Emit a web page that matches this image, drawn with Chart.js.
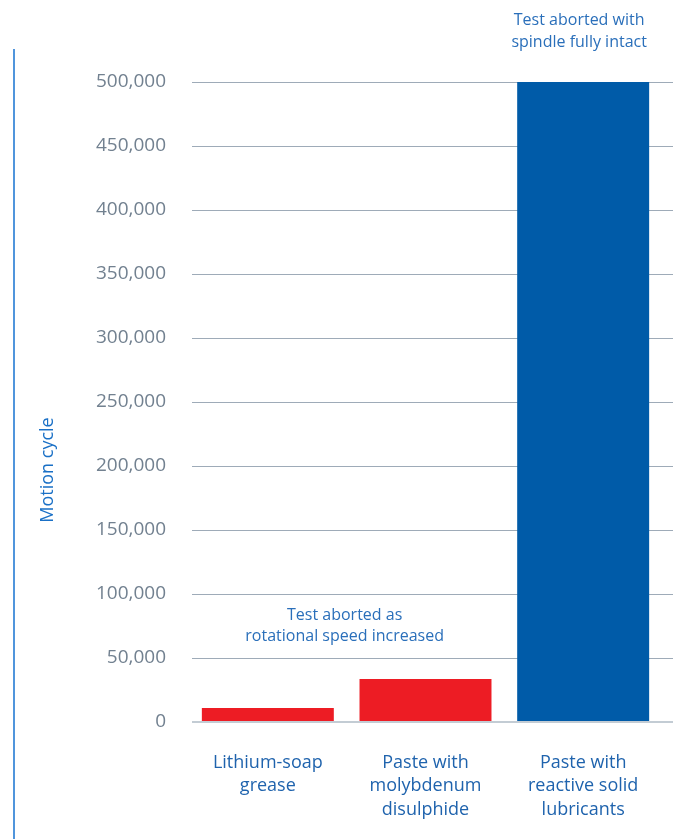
<!DOCTYPE html>
<html>
<head>
<meta charset="utf-8">
<script src="https://cdn.jsdelivr.net/npm/chart.js@4"></script>
<style>
  html, body { margin: 0; padding: 0; background: #fff; }
  #wrap { width: 679px; height: 839px; position: relative; }
</style>
</head>
<body>
<div id="wrap"><canvas id="cycleChart"></canvas></div>
<script>
// Data
const categories = [
  ['Lithium-soap', 'grease'],
  ['Paste with', 'molybdenum', 'disulphide'],
  ['Paste with', 'reactive solid', 'lubricants']
];
const cycles = [11000, 33500, 500000];
const barColors = ['#ed1c24', '#ed1c24', '#005ba8'];
const yTicks = [0, 50000, 100000, 150000, 200000, 250000, 300000, 350000, 400000, 450000, 500000];
const axisTitle = 'Motion cycle';
const noteTop = ['Test aborted with', 'spindle fully intact'];
const noteLow = ['Test aborted as', 'rotational speed increased'];

const FONT = '"Open Sans", "Noto Sans", sans-serif';

// grid lines, side rule, axis title and notes
const decor = {
  id: 'decor',
  beforeDatasetsDraw(chart) {
    const { ctx, scales: { y } } = chart;
    const x0 = 192, x1 = 673;
    ctx.save();
    y.ticks.forEach(t => {
      if (t.value === 0) return;
      const py = Math.round(y.getPixelForValue(t.value)) + 0.5;
      ctx.strokeStyle = '#9eabb8';
      ctx.lineWidth = 1;
      ctx.beginPath();
      ctx.moveTo(x0, py);
      ctx.lineTo(x1, py);
      ctx.stroke();
    });
    ctx.restore();
  },
  afterDatasetsDraw(chart) {
    const { ctx, scales: { x, y } } = chart;
    ctx.save();
    // zero line
    const zy = y.getPixelForValue(0);
    ctx.strokeStyle = '#c3ccd4';
    ctx.lineWidth = 2;
    ctx.beginPath();
    ctx.moveTo(192, zy);
    ctx.lineTo(673, zy);
    ctx.stroke();

    // left rule
    ctx.strokeStyle = '#1672d0';
    ctx.lineWidth = 1.5;
    ctx.beginPath();
    ctx.moveTo(14, 49);
    ctx.lineTo(14, chart.height);
    ctx.stroke();

    // axis title
    ctx.fillStyle = '#1a70c6';
    ctx.font = '18px ' + FONT;
    ctx.textAlign = 'center';
    ctx.textBaseline = 'middle';
    ctx.translate(48, 470);
    ctx.rotate(-Math.PI / 2);
    ctx.fillText(axisTitle, 0, 0);
    ctx.restore();

    // notes
    ctx.save();
    ctx.fillStyle = '#2a6fba';
    ctx.font = '16px ' + FONT;
    ctx.textAlign = 'center';
    ctx.textBaseline = 'middle';
    const topX = x.getPixelForValue(2) - 4;
    const topY = y.getPixelForValue(500000);
    noteTop.forEach((line, i) => ctx.fillText(line, topX, topY - 62 + i * 22));
    const lowX = (x.getPixelForValue(0) + x.getPixelForValue(1)) / 2 - 2;
    const lowY = y.getPixelForValue(83000);
    noteLow.forEach((line, i) => ctx.fillText(line, lowX, lowY + i * 21));
    ctx.restore();
  }
};

new Chart(document.getElementById('cycleChart'), {
  type: 'bar',
  data: {
    labels: categories,
    datasets: [{
      data: cycles,
      backgroundColor: barColors,
      borderWidth: 0,
      categoryPercentage: 1,
      barPercentage: 0.837
    }]
  },
  options: {
    responsive: true,
    maintainAspectRatio: false,
    animation: false,
    layout: { padding: { top: 82, right: 17, bottom: 0, left: 1 } },
    plugins: {
      legend: { display: false },
      tooltip: { enabled: false }
    },
    scales: {
      x: {
        grid: { display: false, drawTicks: false },
        border: { display: false },
        afterFit: (s) => { s.height = 117; },
        ticks: {
          color: '#1f63ad',
          padding: 29,
          font: { family: FONT, size: 18, lineHeight: '23.5px' },
          maxRotation: 0,
          autoSkip: false
        }
      },
      y: {
        min: 0,
        max: 500000,
        afterFit: (s) => { s.width = 188; },
        afterBuildTicks: (s) => { s.ticks = yTicks.map(v => ({ value: v })); },
        grid: { display: false, drawTicks: false },
        border: { display: false },
        ticks: {
          color: '#728190',
          padding: 23,
          font: { family: FONT, size: 19 },
          callback: (v) => v.toLocaleString('en-US')
        }
      }
    }
  },
  plugins: [decor]
});
</script>
</body>
</html>
